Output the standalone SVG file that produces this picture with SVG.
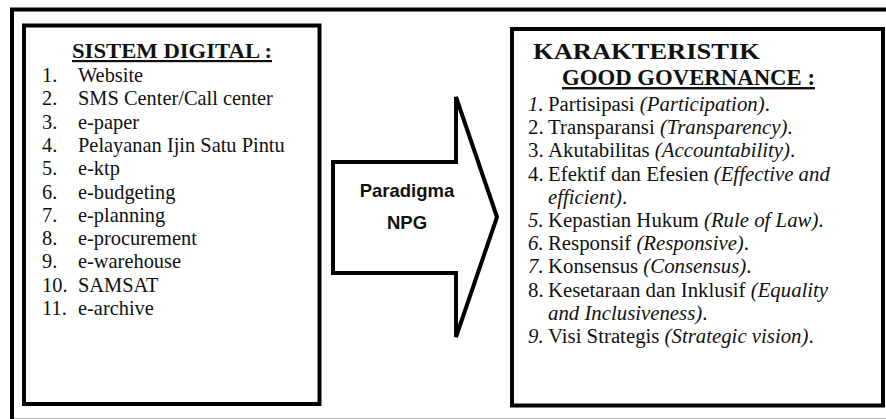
<svg xmlns="http://www.w3.org/2000/svg" width="886" height="419" viewBox="0 0 886 419" font-family="Liberation Serif, serif">
<style>
.frame{fill:none;stroke:#000;stroke-width:4}
.i{font-style:italic}
</style>
<rect width="886" height="419" fill="#fff"/>
<rect id="outer" class="frame" x="12" y="9.5" width="880" height="411.2"/>
<g id="sistem-digital">
<rect class="frame" x="24" y="25.5" width="295.5" height="378.5"/>
<text x="72" y="58" font-family="Liberation Serif, serif" font-weight="bold" font-size="22" fill="#111" text-decoration="underline" textLength="200" lengthAdjust="spacingAndGlyphs">SISTEM DIGITAL :</text>
<g font-family="Liberation Serif, serif" font-size="20.4" fill="#111">
<text x="42" y="82">1.</text><text x="78" y="82">Website</text>
<text x="42" y="105.3">2.</text><text x="78" y="105.3">SMS Center/Call center</text>
<text x="42" y="128.6">3.</text><text x="78" y="128.6">e-paper</text>
<text x="42" y="151.9">4.</text><text x="78" y="151.9">Pelayanan Ijin Satu Pintu</text>
<text x="42" y="175.2">5.</text><text x="78" y="175.2">e-ktp</text>
<text x="42" y="198.5">6.</text><text x="78" y="198.5">e-budgeting</text>
<text x="42" y="221.8">7.</text><text x="78" y="221.8">e-planning</text>
<text x="42" y="245.1">8.</text><text x="78" y="245.1">e-procurement</text>
<text x="42" y="268.4">9.</text><text x="78" y="268.4">e-warehouse</text>
<text x="42" y="291.7">10.</text><text x="78" y="291.7">SAMSAT</text>
<text x="42" y="315">11.</text><text x="78" y="315">e-archive</text>
</g>
</g>
<g id="karakteristik">
<rect class="frame" x="512" y="29" width="371" height="376.5"/>
<text x="533" y="59" font-family="Liberation Serif, serif" font-weight="bold" font-size="24" fill="#111" textLength="227" lengthAdjust="spacingAndGlyphs">KARAKTERISTIK</text>
<text x="562" y="85" font-family="Liberation Serif, serif" font-weight="bold" font-size="24" fill="#111" text-decoration="underline" textLength="253" lengthAdjust="spacingAndGlyphs">GOOD GOVERNANCE :</text>
<g font-family="Liberation Serif, serif" font-size="20.8" fill="#111">
<text x="528" y="111" class="i">1.</text><text x="548" y="111">Partisipasi <tspan class="i">(Participation)</tspan>.</text>
<text x="528" y="134.2">2.</text><text x="548" y="134.2">Transparansi <tspan class="i">(Transparency)</tspan>.</text>
<text x="528" y="157.4">3.</text><text x="548" y="157.4">Akutabilitas <tspan class="i">(Accountability)</tspan>.</text>
<text x="528" y="180.6">4.</text><text x="548" y="180.6">Efektif dan Efesien <tspan class="i">(Effective and</tspan></text>
<text x="548" y="203.8"><tspan class="i">efficient)</tspan>.</text>
<text x="528" y="227" class="i">5.</text><text x="548" y="227">Kepastian Hukum <tspan class="i">(Rule of Law)</tspan>.</text>
<text x="528" y="250.2" class="i">6.</text><text x="548" y="250.2">Responsif <tspan class="i">(Responsive)</tspan>.</text>
<text x="528" y="273.4" class="i">7.</text><text x="548" y="273.4">Konsensus <tspan class="i">(Consensus)</tspan>.</text>
<text x="528" y="296.6">8.</text><text x="548" y="296.6">Kesetaraan dan Inklusif <tspan class="i">(Equality</tspan></text>
<text x="548" y="319.8"><tspan class="i">and Inclusiveness)</tspan>.</text>
<text x="528" y="343" class="i">9.</text><text x="548" y="343">Visi Strategis <tspan class="i">(Strategic vision)</tspan>.</text>
</g>
</g>
<g id="connectors">
<g id="paradigma-npg">
<polygon class="frame" points="333,162 456,162 456,97 497,217 456,337 456,273 333,273" fill="#fff"/>
<g font-family="Liberation Sans, sans-serif" font-weight="bold" font-size="18.5" fill="#111" text-anchor="middle">
<text x="407" y="197">Paradigma</text>
<text x="407" y="229">NPG</text>
</g>
</g>
</g>
</svg>
